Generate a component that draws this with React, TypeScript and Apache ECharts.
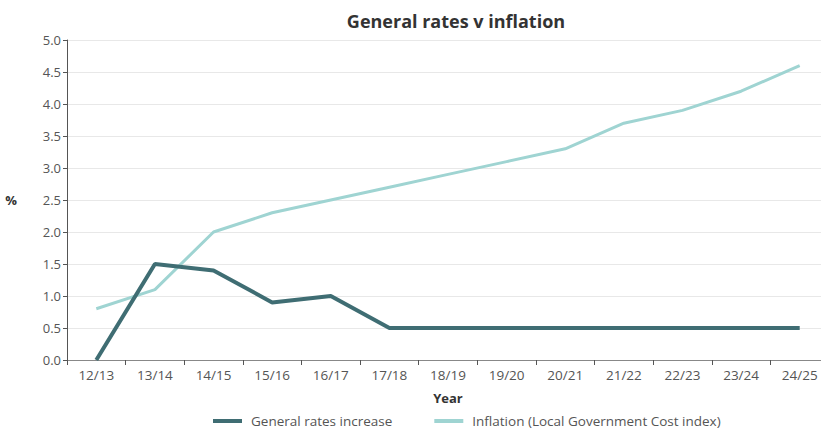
import React, { useEffect, useRef } from "react";
import * as echarts from "echarts";

const categories = ["12/13", "13/14", "14/15", "15/16", "16/17", "17/18", "18/19", "19/20", "20/21", "21/22", "22/23", "23/24", "24/25"];
const generalRates = [0, 1.5, 1.4, 0.9, 1.0, 0.5, 0.5, 0.5, 0.5, 0.5, 0.5, 0.5, 0.5];
const inflation = [0.8, 1.1, 2.0, 2.3, 2.5, 2.7, 2.9, 3.1, 3.3, 3.7, 3.9, 4.2, 4.6];
const seriesNames = ["General rates increase", "Inflation (Local Government Cost index)"];

const FONT = "'Open Sans', 'Noto Sans', sans-serif";

export default function App() {
  const ref = useRef<HTMLDivElement>(null);
  useEffect(() => {
    if (!ref.current) return;
    const chart = echarts.init(ref.current, undefined, { renderer: "svg" });
    chart.setOption({
      animation: false,
      backgroundColor: "#ffffff",
      title: {
        text: "General rates v inflation",
        left: 451,
        textAlign: "center",
        top: 7,
        textStyle: { fontFamily: FONT, fontSize: 18, fontWeight: "bold", color: "#333333" },
      },
      legend: {
        bottom: -1,
        left: 208,
        itemGap: 42,
        itemWidth: 29,
        itemHeight: 4,
        icon: "rect",
        textStyle: { fontFamily: FONT, fontSize: 13.5, color: "#555555", padding: [0, 0, 0, 4] },
        data: seriesNames,
      },
      grid: { left: 67, right: 0, top: 40, bottom: 72, containLabel: false },
      xAxis: {
        type: "category",
        data: categories,
        boundaryGap: true,
        name: "Year",
        nameLocation: "middle",
        nameGap: 31,
        nameTextStyle: { fontFamily: FONT, fontSize: 13, fontWeight: "bold", color: "#333333" },
        axisLine: { lineStyle: { color: "#888888", width: 1 } },
        axisTick: { show: true, length: 5, lineStyle: { color: "#555555" } },
        axisLabel: { fontFamily: FONT, fontSize: 13.5, color: "#555555", margin: 8 },
      },
      yAxis: {
        type: "value",
        min: 0,
        max: 5,
        interval: 0.5,
        name: "%",
        nameLocation: "middle",
        nameRotate: 0,
        nameGap: 50,
        nameTextStyle: { fontFamily: FONT, fontSize: 13, fontWeight: "bold", color: "#333333" },
        axisLine: { show: true, lineStyle: { color: "#555555", width: 1 } },
        axisTick: { show: true, length: 4, lineStyle: { color: "#555555" } },
        axisLabel: {
          fontFamily: FONT,
          fontSize: 13,
          color: "#555555",
          margin: 6,
          formatter: (v: number) => v.toFixed(1),
        },
        splitLine: { show: true, lineStyle: { color: "#e8e8e8", width: 1 } },
      },
      series: [
        {
          name: seriesNames[0],
          type: "line",
          data: generalRates,
          symbol: "none",
          lineStyle: { color: "#3f6d73", width: 4 },
          itemStyle: { color: "#3f6d73" },
          z: 3,
        },
        {
          name: seriesNames[1],
          type: "line",
          data: inflation,
          symbol: "none",
          lineStyle: { color: "#9fd4d2", width: 3 },
          itemStyle: { color: "#9fd4d2" },
          z: 2,
        },
      ],
    });
    return () => chart.dispose();
  }, []);
  return (
    <div style={{ width: 821, height: 432, position: "absolute", left: 0, top: 0, overflow: "hidden" }}>
      <div ref={ref} style={{ width: 829, height: 432 }} />
    </div>
  );
}
